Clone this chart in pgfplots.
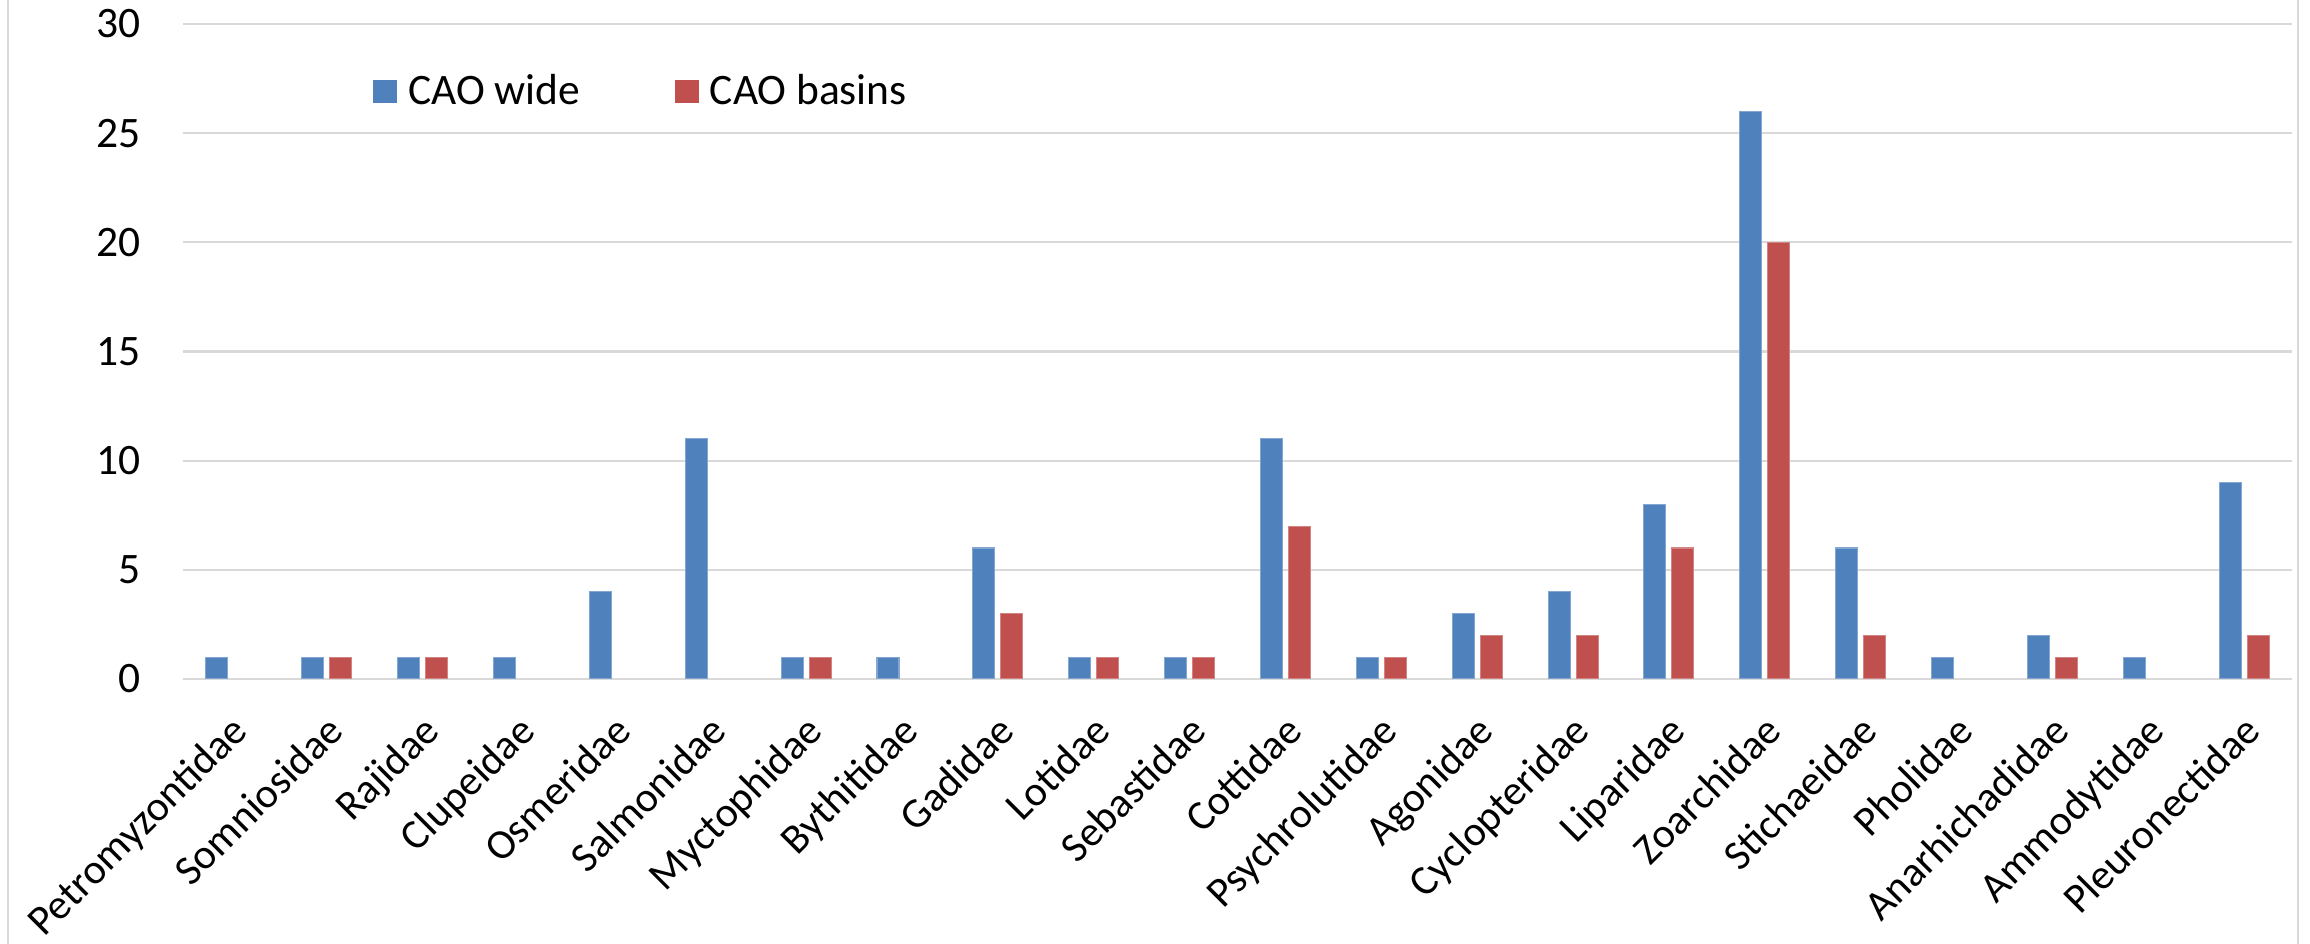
\documentclass[border=0pt]{standalone}
\usepackage{pgfplots}
\pgfplotsset{compat=1.18}
\usepackage{fontspec}
\setmainfont{Carlito}

\definecolor{cblue}{HTML}{4F81BD}
\definecolor{cred}{HTML}{C0504D}
\definecolor{gridgray}{HTML}{D9D9D9}

\newcommand{\lblfont}{\fontsize{14.5}{17}\selectfont}
\newcommand{\xlblfont}{\fontsize{14}{17}\selectfont}

\begin{document}
\begin{tikzpicture}
\begin{axis}[
  at={(0,0)}, anchor=south west,
  scale only axis,
  width=703pt, height=218.33pt,
  ybar=2pt, bar width=7.33pt,
  xmin=-0.5, xmax=21.5,
  ymin=0, ymax=30,
  ytick={0,5,...,30},
  xtick={0,...,21},
  xticklabels={Petromyzontidae,Somniosidae,Rajidae,Clupeidae,Osmeridae,Salmonidae,Myctophidae,Bythitidae,Gadidae,Lotidae,Sebastidae,Cottidae,Psychrolutidae,Agonidae,Cyclopteridae,Liparidae,Zoarchidae,Stichaeidae,Pholidae,Anarhichadidae,Ammodytidae,Pleuronectidae},
  /pgf/number format/assume math mode=true,
  tick style={draw=none},
  major tick length=0pt,
  axis line style={draw=none},
  ymajorgrids=true,
  grid style={gridgray, line width=0.7pt},
  yticklabel style={font=\lblfont, inner sep=0pt, xshift=-14pt},
  xticklabel style={font=\xlblfont, inner sep=0pt, xshift=6.3pt, yshift=-18pt, rotate=45, anchor=base east},
  legend columns=2,
  legend style={draw=none, fill=none, font=\lblfont, inner sep=0pt, outer sep=0pt,
    at={(axis description cs:0.0901,0.897)}, anchor=west,
    nodes={inner sep=0pt},
    /tikz/every even column/.append style={column sep=31.5pt}},
  legend cell align=left,
  % square swatch plus an empty stretch that makes the gap before the text
  legend image code/.code={\fill[#1, draw=none] (0pt,-3.85pt) rectangle (8pt,3.85pt);
    \path[draw=none, fill=none] (0pt,0pt) -- (11.7pt,0pt);},
]
\addplot[fill=cblue, draw=cblue!70!white, line width=0.35pt] coordinates {
  (0,1) (1,1) (2,1) (3,1) (4,4) (5,11) (6,1) (7,1) (8,6) (9,1) (10,1)
  (11,11) (12,1) (13,3) (14,4) (15,8) (16,26) (17,6) (18,1) (19,2) (20,1) (21,9)
};
% zero counts are left out so that no flat bar is drawn
\addplot[fill=cred, draw=cred!70!white, line width=0.35pt] coordinates {
  (1,1) (2,1) (6,1) (8,3) (9,1) (10,1)
  (11,7) (12,1) (13,2) (14,2) (15,6) (16,20) (17,2) (19,1) (21,2)
};
\legend{CAO wide, CAO basins}
\end{axis}
\draw[gridgray, line width=0.7pt] (-58.33pt,-88.33pt) -- (-58.33pt,226.33pt);
\draw[gridgray, line width=0.7pt] (705pt,-88.33pt) -- (705pt,226.33pt);
\pgfresetboundingbox
\path[use as bounding box] (-61pt,-88.33pt) rectangle (709pt,226.33pt);
\end{tikzpicture}
\end{document}
